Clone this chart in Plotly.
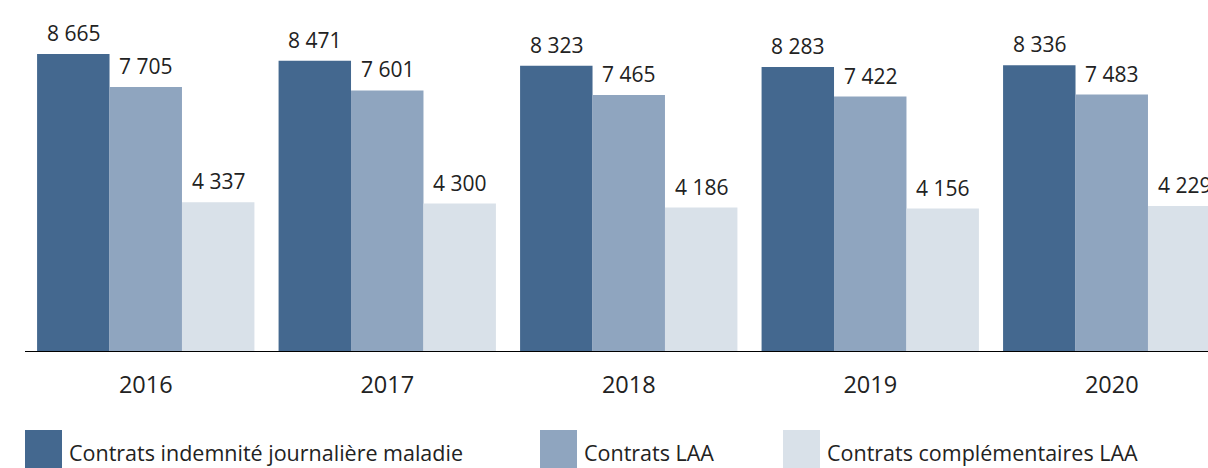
import plotly.graph_objects as go

years = ["2016", "2017", "2018", "2019", "2020"]
series_names = [
    "Contrats indemnité journalière maladie",
    "Contrats LAA",
    "Contrats complémentaires LAA",
]
ijm = [8665, 8471, 8323, 8283, 8336]
laa = [7705, 7601, 7465, 7422, 7483]
compl = [4337, 4300, 4186, 4156, 4229]
series_values = [ijm, laa, compl]
colors = ["#44688f", "#8fa5bf", "#d9e1e9"]

W, H = 1208, 468
ML, MB = 25, 117
plot_w = W - ML
plot_h = H - MB
cat_px = 241.5
FONT = "Open Sans"
TXT = "#222222"


def fmt(v):
    return f"{v:,}".replace(",", " ")


fig = go.Figure()
for name, vals, col in zip(series_names, series_values, colors):
    fig.add_trace(go.Bar(x=years, y=vals, name=name, marker=dict(color=col, line=dict(width=0)),
                         showlegend=False, cliponaxis=False))

# value labels
offsets = [-0.3, 0.0, 0.3]
annotations = []
for vals, off in zip(series_values, offsets):
    for i, v in enumerate(vals):
        annotations.append(dict(x=i + off, y=v, xref="x", yref="y", text=fmt(v), showarrow=False,
                                yanchor="bottom", yshift=5,
                                font=dict(family=FONT, size=21, color=TXT)))


def px_x(p):
    return (p - ML) / plot_w


def px_y(p):
    return (plot_h - p) / plot_h


# legend
shapes = []
leg_x = [25, 540, 783]
for lx, name, col in zip(leg_x, series_names, colors):
    shapes.append(dict(type="rect", xref="paper", yref="paper", x0=px_x(lx), x1=px_x(lx + 37),
                       y0=px_y(468), y1=px_y(430), fillcolor=col, line=dict(width=0), layer="above"))
    annotations.append(dict(x=px_x(lx + 42), y=px_y(452), xref="paper", yref="paper", text=name,
                            showarrow=False, xanchor="left", yanchor="middle",
                            font=dict(family=FONT, size=21.5, color=TXT)))

fig.update_layout(
    width=W, height=H,
    margin=dict(l=ML, r=0, t=0, b=MB),
    paper_bgcolor="white", plot_bgcolor="white",
    barmode="group", bargap=0.1, bargroupgap=0,
    xaxis=dict(range=[-0.5, -0.5 + plot_w / cat_px], showgrid=False, showline=True, linecolor="#000000",
               linewidth=1, ticks="outside", ticklen=13, tickcolor="rgba(0,0,0,0)",
               tickfont=dict(family=FONT, size=23.5, color=TXT), fixedrange=True),
    yaxis=dict(range=[0, plot_h / 0.034277], showgrid=False, showticklabels=False, zeroline=False,
               showline=False, fixedrange=True),
    annotations=annotations,
    shapes=shapes,
    font=dict(family=FONT),
)

fig.write_html("out.html", config={"displayModeBar": False},
               post_script="document.body.style.margin='0';document.body.style.overflow='hidden';")
